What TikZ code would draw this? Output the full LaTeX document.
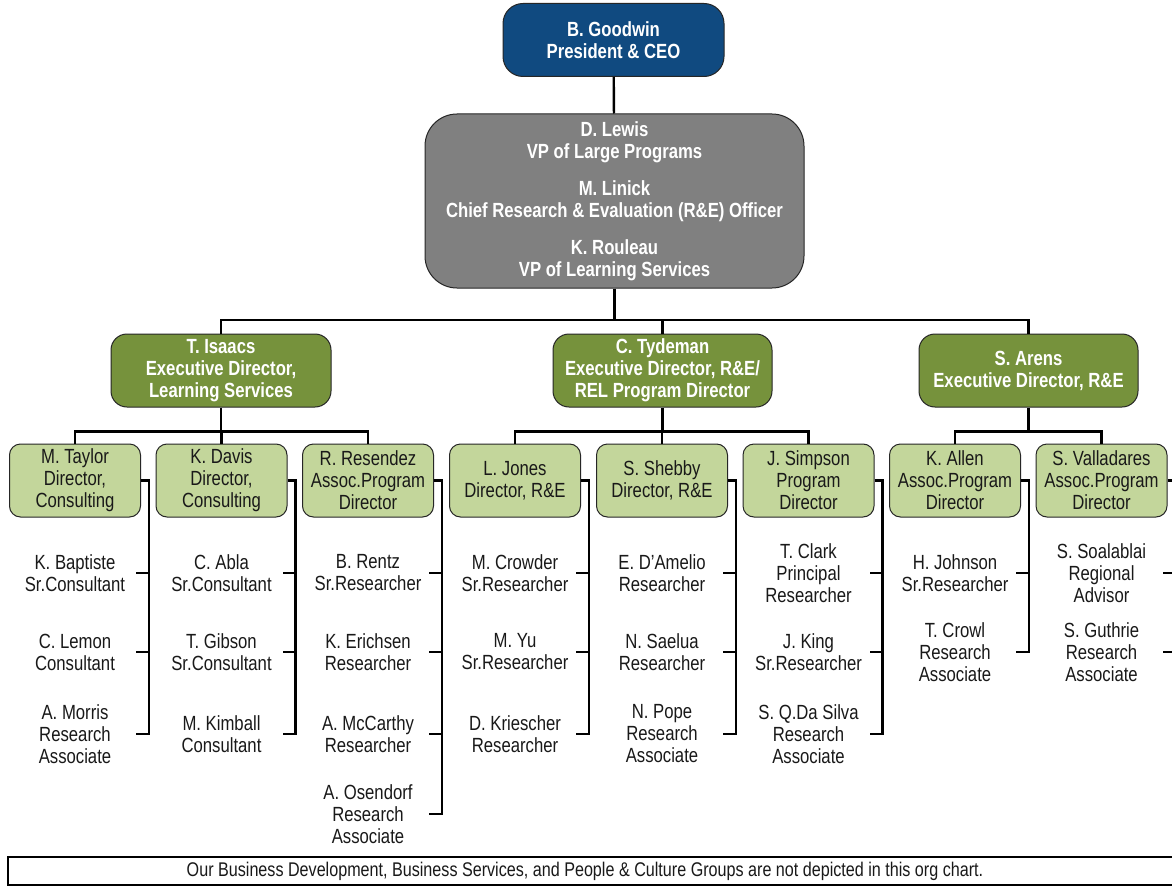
\documentclass[tikz,border=0pt]{standalone}
\usepackage{fontspec}
\setmainfont[FakeStretch=0.815]{Liberation Sans}
\usetikzlibrary{calc}

\definecolor{ceoblue}{RGB}{16,74,128}
\definecolor{vpgray}{RGB}{128,128,128}
\definecolor{exgreen}{RGB}{118,146,60}
\definecolor{dirgreen}{RGB}{195,214,155}

\newcommand{\chartfont}{\fontsize{20.5}{22}\selectfont}
\newcommand{\notefont}{\fontsize{19.8}{22}\selectfont}

\tikzset{
	chartline/.style={line width=2.4pt, black},
	ceobox/.style={draw=black!85, line width=1pt, fill=ceoblue, rounded corners=20pt, minimum width=221pt, minimum height=73pt, text=white, font=\chartfont\bfseries, align=center, inner sep=0pt},
	vpbox/.style={draw=black!85, line width=1pt, fill=vpgray, rounded corners=32pt, minimum width=379pt, minimum height=174pt, text=white, font=\chartfont\bfseries, align=center, inner sep=0pt},
	exbox/.style={draw=black!85, line width=1pt, fill=exgreen, rounded corners=16pt, minimum width=220pt, minimum height=73pt, text=white, font=\chartfont\bfseries, align=center, inner sep=0pt},
	dirbox/.style={draw=black!85, line width=1pt, fill=dirgreen, rounded corners=11pt, minimum width=131pt, minimum height=73pt, text=black!90, font=\chartfont, align=center, inner sep=0pt},
	staff/.style={text=black!90, font=\chartfont, align=center, inner sep=0pt}
}

\begin{document}
\begin{tikzpicture}[x=1pt, y=-1pt]
			%%%%% START %%%%%
			\useasboundingbox[fill=white] (0,0) rectangle (1172,888);
			
			\node[ceobox] (goodwin) at (613.5,40) {B. Goodwin\\President \& CEO};
			\node[vpbox] (vps) at (614.5,201) {D. Lewis\\VP of Large Programs\\[15pt]M. Linick\\Chief Research \& Evaluation (R\&E) Officer\\[15pt]K. Rouleau\\VP of Learning Services};
			\draw[chartline] (goodwin) -- (vps);
			
			\node[exbox] (isaacs) at (221,370.5) {T. Isaacs\\Executive Director,\\Learning Services};
			\node[exbox, minimum width=219pt] (tydeman) at (662.5,370.5) {C. Tydeman\\Executive Director, R\&E/\\REL Program Director};
			\node[exbox, minimum width=219pt] (arens) at (1028.5,370.5) {S. Arens\\Executive Director, R\&E};
			
			\coordinate (bar1) at (0,320);
			\draw[chartline] (vps.south) -- (vps.south |- bar1);
			\draw[chartline] (isaacs.north) |- (bar1 -| arens.north) -- (arens.north);
			\draw[chartline] (tydeman.north) -- (tydeman.north |- bar1);
			
			\node[dirbox] (taylor) at (75,480.5) {M. Taylor\\Director,\\Consulting};
			\node[dirbox] (davis) at (221.5,480.5) {K. Davis\\Director,\\Consulting};
			\node[dirbox] (resendez) at (368,480.5) {R. Resendez\\Assoc.Program\\Director};
			\node[dirbox] (jones) at (515,480.5) {L. Jones\\Director, R\&E};
			\node[dirbox] (shebby) at (662,480.5) {S. Shebby\\Director, R\&E};
			\node[dirbox] (simpson) at (808.5,480.5) {J. Simpson\\Program\\Director};
			\node[dirbox] (allen) at (955,480.5) {K. Allen\\Assoc.Program\\Director};
			\node[dirbox] (valladares) at (1101.5,480.5) {S. Valladares\\Assoc.Program\\Director};
			
			\coordinate (bar2) at (0,431.5);
			\draw[chartline] (isaacs.south) -- (isaacs.south |- bar2);
			\draw[chartline] (taylor.north) |- (bar2 -| resendez.north) -- (resendez.north);
			\draw[chartline] (davis.north) -- (davis.north |- bar2);
			\draw[chartline] (tydeman.south) -- (tydeman.south |- bar2);
			\draw[chartline] (jones.north) |- (bar2 -| simpson.north) -- (simpson.north);
			\draw[chartline] (shebby.north) -- (shebby.north |- bar2);
			\draw[chartline] (arens.south) -- (arens.south |- bar2);
			\draw[chartline] (allen.north) |- (bar2 -| valladares.north) -- (valladares.north);
			
			% staff under each director
			\node[staff] (baptiste) at (75,573) {K. Baptiste\\Sr.Consultant};
			\node[staff] (lemon) at (75,652) {C. Lemon\\Consultant};
			\node[staff] (morris) at (75,734) {A. Morris\\Research\\Associate};
			
			\node[staff] (abla) at (221.5,573) {C. Abla\\Sr.Consultant};
			\node[staff] (gibson) at (221.5,652) {T. Gibson\\Sr.Consultant};
			\node[staff] (kimball) at (221.5,734) {M. Kimball\\Consultant};
			
			\node[staff] (rentz) at (368,573) {B. Rentz\\Sr.Researcher};
			\node[staff] (erichsen) at (368,652) {K. Erichsen\\Researcher};
			\node[staff] (mccarthy) at (368,734) {A. McCarthy\\Researcher};
			\node[staff] (osendorf) at (368,814) {A. Osendorf\\Research\\Associate};
			
			\node[staff] (crowder) at (515,573) {M. Crowder\\Sr.Researcher};
			\node[staff] (yu) at (515,652) {M. Yu\\Sr.Researcher};
			\node[staff] (kriescher) at (515,734) {D. Kriescher\\Researcher};
			
			\node[staff] (damelio) at (662,573) {E. D'Amelio\\Researcher};
			\node[staff] (saelua) at (662,652) {N. Saelua\\Researcher};
			\node[staff] (pope) at (662,734) {N. Pope\\Research\\Associate};
			
			\node[staff] (clark) at (808.5,573) {T. Clark\\Principal\\Researcher};
			\node[staff] (king) at (808.5,652) {J. King\\Sr.Researcher};
			\node[staff] (dasilva) at (808.5,734) {S. Q.Da Silva\\Research\\Associate};
			
			\node[staff] (johnson) at (955,573) {H. Johnson\\Sr.Researcher};
			\node[staff] (crowl) at (955,652) {T. Crowl\\Research\\Associate};
			
			\node[staff] (soalablai) at (1101.5,573) {S. Soalablai\\Regional\\Advisor};
			\node[staff] (guthrie) at (1101.5,652) {S. Guthrie\\Research\\Associate};
			
			% brackets
			\draw[chartline] (taylor.east) -- ++(8,0) coordinate (taylor-b) -- (taylor-b |- morris) -- ++(-13,0);
			\draw[chartline] (taylor-b |- baptiste) -- ++(-13,0);
			\draw[chartline] (taylor-b |- lemon) -- ++(-13,0);
			
			\draw[chartline] (davis.east) -- ++(8,0) coordinate (davis-b) -- (davis-b |- kimball) -- ++(-13,0);
			\draw[chartline] (davis-b |- abla) -- ++(-13,0);
			\draw[chartline] (davis-b |- gibson) -- ++(-13,0);
			
			\draw[chartline] (resendez.east) -- ++(8,0) coordinate (resendez-b) -- (resendez-b |- osendorf) -- ++(-13,0);
			\draw[chartline] (resendez-b |- rentz) -- ++(-13,0);
			\draw[chartline] (resendez-b |- erichsen) -- ++(-13,0);
			\draw[chartline] (resendez-b |- mccarthy) -- ++(-13,0);
			
			\draw[chartline] (jones.east) -- ++(8,0) coordinate (jones-b) -- (jones-b |- kriescher) -- ++(-13,0);
			\draw[chartline] (jones-b |- crowder) -- ++(-13,0);
			\draw[chartline] (jones-b |- yu) -- ++(-13,0);
			
			\draw[chartline] (shebby.east) -- ++(8,0) coordinate (shebby-b) -- (shebby-b |- pope) -- ++(-13,0);
			\draw[chartline] (shebby-b |- damelio) -- ++(-13,0);
			\draw[chartline] (shebby-b |- saelua) -- ++(-13,0);
			
			\draw[chartline] (simpson.east) -- ++(8,0) coordinate (simpson-b) -- (simpson-b |- dasilva) -- ++(-13,0);
			\draw[chartline] (simpson-b |- clark) -- ++(-13,0);
			\draw[chartline] (simpson-b |- king) -- ++(-13,0);
			
			\draw[chartline] (allen.east) -- ++(8,0) coordinate (allen-b) -- (allen-b |- crowl) -- ++(-13,0);
			\draw[chartline] (allen-b |- johnson) -- ++(-13,0);
			
			\draw[chartline] (valladares.east) -- ++(8,0) coordinate (valladares-b) -- (valladares-b |- guthrie) -- ++(-13,0);
			\draw[chartline] (valladares-b |- soalablai) -- ++(-13,0);
			
			% footnote
			\draw[line width=1.6pt, black] (8,857) rectangle (1190,885);
			\node[staff, font=\notefont] (note) at (585,871) {Our Business Development, Business Services, and People \& Culture Groups are not depicted in this org chart.};
			
			%%%%% END %%%%%
\end{tikzpicture}
\end{document}
